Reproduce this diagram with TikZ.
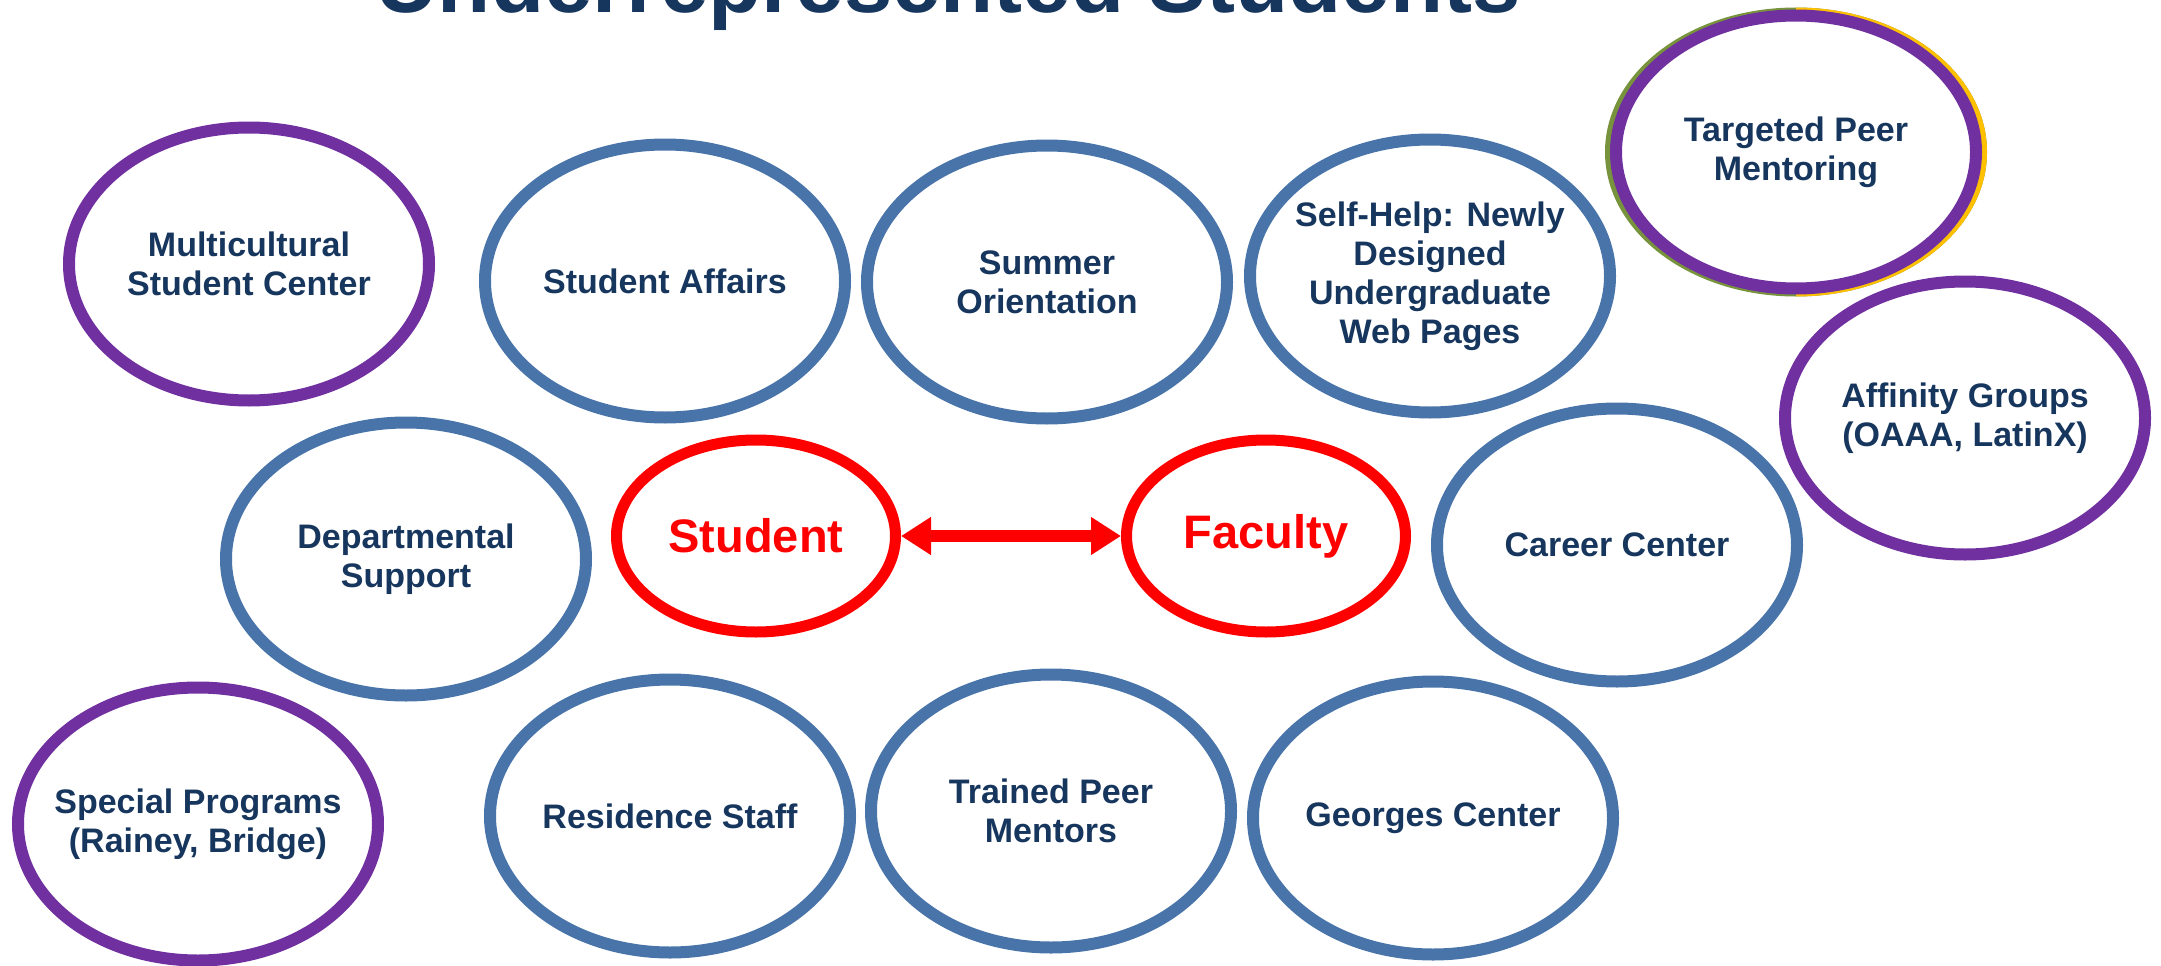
\documentclass[tikz,border=0pt]{standalone}
\usepackage{fontspec}
\setmainfont{Liberation Sans}
\usetikzlibrary{arrows.meta,shapes.geometric}
\definecolor{ringblue}{RGB}{72,116,170}
\definecolor{ringpurple}{RGB}{112,48,160}
\definecolor{ringgreen}{RGB}{119,147,60}
\definecolor{ringgold}{RGB}{255,192,0}
\definecolor{labelnavy}{RGB}{23,54,93}

\begin{document}
\begin{tikzpicture}[x=1pt, y=-1pt,
  ring/.style={ellipse, draw, line width=12pt, minimum width=360pt, minimum height=273pt, inner sep=-30pt, align=center, text=labelnavy, font=\fontsize{34}{39}\selectfont\bfseries},
  bluering/.style={ring, draw=ringblue},
  purplering/.style={ring, draw=ringpurple},
  redring/.style={ellipse, draw=red, line width=11pt, minimum width=279pt, minimum height=192pt, inner sep=0pt, text=red, font=\fontsize{47}{56}\selectfont\bfseries}]
\useasboundingbox (0,0) rectangle (2161,966);
\node[anchor=base, inner sep=0pt, text=labelnavy, font=\fontsize{87}{100}\selectfont\bfseries] (title) at (948,13) {Underrepresented Students};
\node[purplering] (multicultural) at (249,264) {Multicultural\\Student Center};
\node[bluering] (affairs) at (665,281) {Student Affairs};
\node[bluering] (summer) at (1047,282) {Summer\\Orientation};
\node[bluering] (selfhelp) at (1430,276) {Self-Help: Newly\\Designed\\Undergraduate\\Web Pages};
\node[ring, draw=ringgreen, minimum width=370pt, minimum height=277pt] (targetedback) at (1796,152) {};
\begin{scope}
\clip (1796,0) rectangle (2161,320);
\node[ring, draw=ringgold, minimum width=370pt, minimum height=277pt] (targetedgold) at (1796,152) {};
\end{scope}
\node[purplering] (targeted) at (1796,152) {Targeted Peer\\Mentoring};
\node[purplering] (affinity) at (1965,418) {Affinity Groups\\(OAAA, LatinX)};
\node[bluering] (departmental) at (406,559) {Departmental\\Support};
\node[redring] (student) at (756,536) {Student};
\node[redring] (faculty) at (1266,536) {Faculty};
\node[bluering] (career) at (1617,545) {Career Center};
\node[purplering] (special) at (198,824) {Special Programs\\(Rainey, Bridge)};
\node[bluering] (residence) at (670,816) {Residence Staff};
\node[bluering] (trained) at (1051,811) {Trained Peer\\Mentors};
\node[bluering] (georges) at (1433,818) {Georges Center};
\draw[red, line width=11.5pt, {Triangle[length=30pt,width=36pt]}-{Triangle[length=30pt,width=36pt]}] (student) -- (faculty);
\end{tikzpicture}
\end{document}
